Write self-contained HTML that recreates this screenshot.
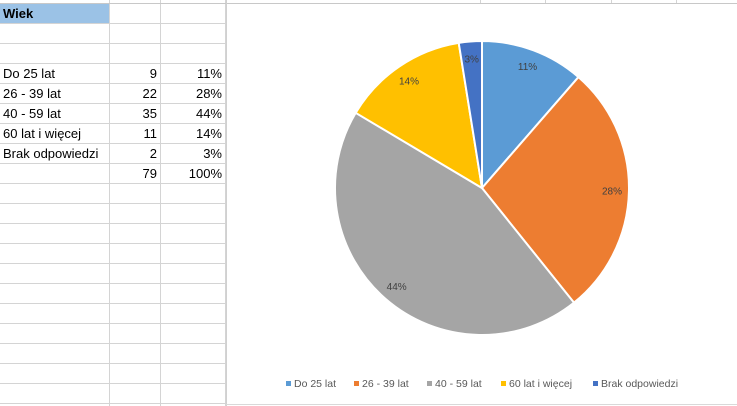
<!DOCTYPE html>
<html><head><meta charset="utf-8"><style>
body{margin:0;width:737px;height:406px;overflow:hidden;background:#fff;font-family:"Liberation Sans",sans-serif;position:relative}
.c{position:absolute;font-size:13px;color:#000;line-height:20px;white-space:nowrap}
.r{text-align:right}
</style></head><body>
<svg id="grid" width="737" height="406" style="position:absolute;left:0;top:0"></svg>
<div class="c" style="left:0;top:4;width:109px;height:19px;top:4px;background:#9bc2e6;font-weight:bold;padding-left:3px;box-sizing:border-box">Wiek</div>
<div id="cells"></div>
<svg id="chart" width="512" height="406" style="position:absolute;left:226px;top:0"></svg>
<script>
const categories=["Do 25 lat","26 - 39 lat","40 - 59 lat","60 lat i więcej","Brak odpowiedzi"];
const counts=[9,22,35,11,2];
const pctLabels=["11%","28%","44%","14%","3%"];
const colors=["#5b9bd5","#ed7d31","#a5a5a5","#ffc000","#4472c4"];
const NS="http://www.w3.org/2000/svg";
function mk(p,t,a){const e=document.createElementNS(NS,t);for(const k in a)e.setAttribute(k,a[k]);p.appendChild(e);return e;}
// grid
const g=document.getElementById('grid');
for(let i=0;i<21;i++){const y=3+i*20;const l=mk(g,'line',{x1:0,x2:226,y1:y+.5,y2:y+.5,stroke:'#d4d4d4'});

}
[109,160,225].forEach(x=>{const l=mk(g,'line',{x1:x+.5,x2:x+.5,y1:0,y2:406,stroke:'#d4d4d4'});

});
[480,545,611,676].forEach(x=>{mk(g,'line',{x1:x+.5,x2:x+.5,y1:0,y2:3,stroke:'#d4d4d4'});});
mk(g,'line',{x1:0,x2:737,y1:3.5,y2:3.5,stroke:'#c8c8c8'});
// cells
const cells=document.getElementById('cells');
const total=counts.reduce((a,b)=>a+b,0);
function cell(txt,x,w,y,right,name){const d=document.createElement('div');d.className='c'+(right?' r':'');
d.style.left=x+'px';d.style.top=y+'px';d.style.width=w+'px';d.textContent=txt;


cells.appendChild(d);}
categories.forEach((c,i)=>{const y=63+i*20+1;
cell(c,3,105,y,false,'category-cell');
cell(String(counts[i]),110,47,y,true,'count-cell');
cell(pctLabels[i],161,61,y,true,'percent-cell');});
cell(String(total),110,47,164,true,'total-count-cell');
cell('100%',161,61,164,true,'total-percent-cell');
// chart
const s=document.getElementById('chart');
mk(s,'line',{x1:.5,x2:.5,y1:0,y2:406,stroke:'#d0d0d0'});
mk(s,'line',{x1:0,x2:512,y1:404.5,y2:404.5,stroke:'#d9d9d9'});
const cx=482-226,cy=188,R=147;
let a0=0;
counts.forEach((v,i)=>{const a1=a0+v/total*2*Math.PI;
const p=(a)=>[cx+R*Math.sin(a),cy-R*Math.cos(a)];
const [x0,y0]=p(a0),[x1,y1]=p(a1);
const path=mk(s,'path',{d:`M${cx},${cy}L${x0},${y0}A${R},${R} 0 ${a1-a0>Math.PI?1:0} 1 ${x1},${y1}Z`,fill:colors[i],stroke:'#fff','stroke-width':2});


const am=(a0+a1)/2;
const t=mk(s,'text',{x:cx+130*Math.sin(am),y:cy-130*Math.cos(am)+4,'text-anchor':'middle','font-size':10,fill:'#404040','font-family':'Liberation Sans, sans-serif'});
t.textContent=pctLabels[i];


a0=a1;});
// legend
const lx=[287,355,428,502,594].map(x=>x-226);
categories.forEach((c,i)=>{
const r=mk(s,'rect',{x:lx[i]-1,y:381,width:5,height:5,fill:colors[i]});


const t=mk(s,'text',{x:lx[i]+7,y:387,'font-size':10.5,fill:'#595959','font-family':'Liberation Sans, sans-serif'});
t.textContent=c;

});
</script>
</body></html>
